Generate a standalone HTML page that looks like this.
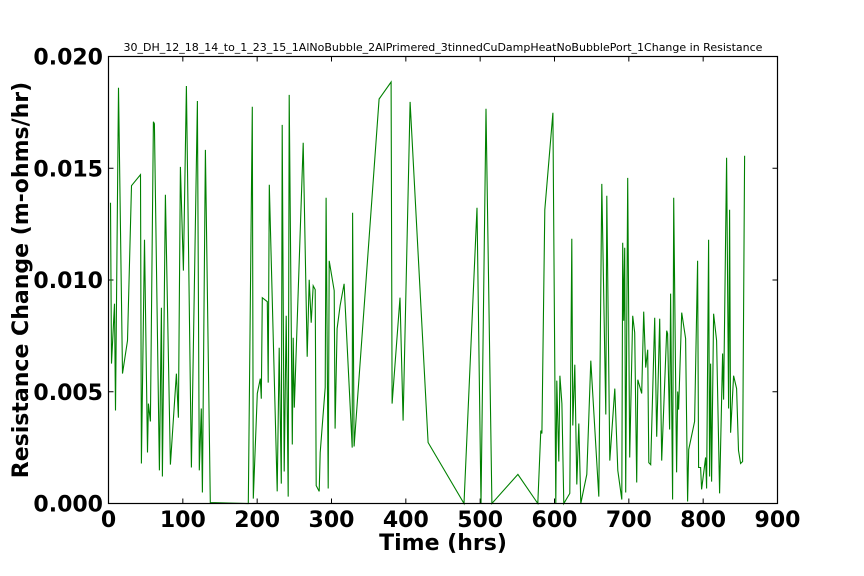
<!DOCTYPE html>
<html><head><meta charset="utf-8"><style>
html,body{margin:0;padding:0;background:#fff;}
svg{display:block;font-family:"DejaVu Sans","Liberation Sans",sans-serif;}
</style></head><body>
<svg id="chart" width="864" height="576" viewBox="0 0 864 576">
<rect x="0" y="0" width="864" height="576" fill="#fff"/>
<text x="443" y="51" font-size="11" text-anchor="middle">30_DH_12_18_14_to_1_23_15_1AlNoBubble_2AlPrimered_3tinnedCuDampHeatNoBubblePort_1Change in Resistance</text>
<g id="ticks"></g>
<polyline id="series" fill="none" stroke="#008000" stroke-width="1.1"/>
<rect x="108.5" y="56.5" width="669" height="447" fill="none" stroke="#000" stroke-width="1.2"/>
<text x="443" y="550" font-size="22" font-weight="bold" text-anchor="middle">Time (hrs)</text>
<text transform="translate(28,280) rotate(-90)" font-size="22" font-weight="bold" text-anchor="middle">Resistance Change (m-ohms/hr)</text>
</svg>
<script>
const xTicks=[0,100,200,300,400,500,600,700,800,900];
const yTicks=[0,0.005,0.010,0.015,0.020];
const yTickLabels=["0.000","0.005","0.010","0.015","0.020"];
const hours=[2.7,4.0,8.1,9.4,13.4,18.8,25.5,30.9,43.0,44.3,48.4,52.4,53.7,56.4,60.4,61.8,68.5,71.2,72.5,76.6,83.3,91.3,94.0,96.7,100.7,104.8,111.5,119.6,122.2,124.9,126.3,130.3,137.0,188.1,193.4,194.8,200.2,204.2,205.5,206.9,213.6,214.9,216.3,227.0,229.7,232.4,233.7,236.4,239.1,241.8,243.1,247.2,248.5,249.9,261.9,267.3,270.0,272.7,275.4,278.1,279.4,283.4,284.8,291.5,292.8,295.5,296.9,303.6,304.9,307.6,311.6,317.0,327.8,328.4,330.4,364.0,380.2,381.5,392.2,396.3,405.7,429.9,478.2,495.7,501.1,507.8,515.8,550.8,577.6,581.6,583.0,587.0,597.8,601.8,603.1,605.8,607.2,609.9,612.5,620.6,623.3,624.6,627.3,630.0,632.7,635.4,643.5,648.8,659.6,663.6,669.0,670.3,674.4,681.1,685.1,690.5,691.8,693.1,694.5,695.8,698.5,701.2,705.2,707.9,710.6,712.0,717.3,720.0,722.7,725.4,726.8,729.4,734.8,737.5,741.5,744.2,750.9,752.2,754.9,756.2,758.9,760.3,764.3,765.7,767.0,771.1,776.4,779.1,780.5,788.5,792.5,793.9,796.6,797.9,803.3,804.6,807.3,808.7,810.0,811.3,814.0,818.1,822.1,826.1,827.5,831.5,834.2,835.6,836.9,840.9,845.0,847.6,850.3,853.0,855.7];
const changes=[0.01346,0.00626,0.00894,0.00416,0.01860,0.00581,0.00729,0.01422,0.01471,0.00179,0.01180,0.00228,0.00447,0.00367,0.01708,0.01699,0.00148,0.00876,0.00121,0.01381,0.00174,0.00581,0.00384,0.01506,0.01042,0.01868,0.00161,0.01801,0.00148,0.00425,0.00049,0.01582,0.00004,0,0.01775,0.00022,0.00492,0.00559,0.00469,0.00921,0.00903,0.00541,0.01426,0.00054,0.00697,0.00089,0.01694,0.00143,0.00840,0.00031,0.01828,0.00264,0.00742,0.00429,0.01614,0.00657,0.01001,0.00809,0.00974,0.00957,0.00080,0.00054,0.00228,0.00519,0.01368,0.00067,0.01086,0.00952,0.00335,0.00782,0.00885,0.00983,0.00250,0.01301,0.00255,0.01810,0.01886,0.00447,0.00921,0.00371,0.01797,0.00273,0,0.01323,0,0.01766,0,0.00130,0,0.00326,0.00313,0.01314,0.01748,0,0.00550,0.00188,0.00572,0.00447,0,0.00045,0.01185,0.00349,0.00621,0.00085,0.00358,0,0.00130,0.00639,0.00031,0.01430,0.00398,0.01377,0.00192,0.00514,0.00148,0.00018,0.01167,0.00818,0.01144,0.00049,0.01457,0.00206,0.00840,0.00764,0.00094,0.00554,0.00492,0.00858,0.00608,0.00688,0.00183,0.00174,0.00831,0.00299,0.00827,0.00192,0.00773,0.00760,0.00331,0.00939,0.00018,0.01368,0.00139,0.00501,0.00420,0.00854,0.00738,0.00009,0.00241,0.00367,0.01086,0.00161,0.00161,0.00063,0.00206,0.00067,0.01180,0.00121,0.00626,0.00098,0.00849,0.00729,0.00045,0.00671,0.00465,0.01547,0.00425,0.01314,0.00317,0.00572,0.00514,0.00237,0.00179,0.00188,0.01556];

const X0=108.5,X1=777.5,Y0=503.5,Y1=56.5;
function xs(h){return X0+(h-0)/(900-0)*(X1-X0);}
function ys(v){return Y0-(v-0)/(0.02-0)*(Y0-Y1);}
const NS="http://www.w3.org/2000/svg";
const tg=document.getElementById('ticks');
function mk(tag,attrs){const e=document.createElementNS(NS,tag);for(const k in attrs)e.setAttribute(k,attrs[k]);return e;}
xTicks.forEach(function(t){
  const x=xs(t);
  const a=mk('line',{x1:x,x2:x,y1:Y0,y2:Y0-5,stroke:'#000'});
  
  
  tg.appendChild(a);
  const b=mk('line',{x1:x,x2:x,y1:Y1,y2:Y1+5,stroke:'#000'});
  
  
  tg.appendChild(b);
  const l=mk('text',{x:x,y:527,'font-size':22,'font-weight':'bold','text-anchor':'middle'});
  l.textContent=String(t);
  
  
  tg.appendChild(l);
});
yTicks.forEach(function(t,i){
  const y=ys(t);
  const a=mk('line',{x1:X0,x2:X0+5,y1:y,y2:y,stroke:'#000'});
  
  
  tg.appendChild(a);
  const b=mk('line',{x1:X1,x2:X1-5,y1:y,y2:y,stroke:'#000'});
  
  
  tg.appendChild(b);
  const l=mk('text',{x:103,y:y+8,'font-size':22,'font-weight':'bold','text-anchor':'end'});
  l.textContent=yTickLabels[i];
  
  
  tg.appendChild(l);
});
document.getElementById('series').setAttribute('points',hours.map(function(h,i){return xs(h).toFixed(1)+','+ys(changes[i]).toFixed(1);}).join(' '));
</script>
</body></html>
